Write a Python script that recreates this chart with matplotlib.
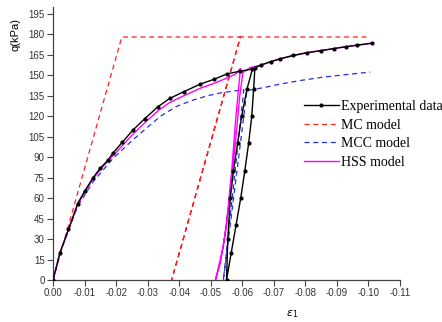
import numpy as np
import matplotlib
matplotlib.use("Agg")
import matplotlib.pyplot as plt

# experimental data: loading, unload/reload loop, continued loading
exp_eps = [0.0, -0.0022, -0.0049, -0.0078, -0.0100, -0.0127, -0.0150, -0.0175,
           -0.0190, -0.0220, -0.0254, -0.0290, -0.0333, -0.0370, -0.0415,
           -0.0467, -0.0510, -0.0552, -0.0594, -0.0632,
           -0.0615, -0.0598, -0.0585, -0.0572, -0.0562, -0.0554, -0.0550,
           -0.0565, -0.0580, -0.0595, -0.0608, -0.0620, -0.0630, -0.0636, -0.0640,
           -0.0660, -0.0690, -0.0720, -0.0760, -0.0805, -0.0850, -0.0890,
           -0.0930, -0.0964, -0.1012]
exp_q = [0, 20, 37, 56, 65, 75, 82, 88,
         93, 101, 110, 118, 127, 133, 138,
         143.5, 147, 151, 153, 154.5,
         140, 120, 100, 80, 60, 30, 0,
         20, 40, 60, 80, 100, 120, 140, 155.5,
         157.5, 160, 162, 164.5, 166.5, 168, 169.5,
         171, 172, 173.5]

# MC model
mc_eps = [0.0, -0.0218, -0.0594, -0.0376, -0.0594, -0.1006]
mc_q = [0, 178, 178, 0, 178, 178]

# MCC model
mcc_eps = [0.0, -0.0022, -0.0049, -0.0078, -0.0127, -0.0190, -0.0250, -0.0300,
           -0.0341, -0.0390, -0.0440, -0.0490, -0.0530, -0.0605,
           -0.0540,
           -0.0615,
           -0.0635, -0.0680, -0.0720, -0.0780, -0.0857, -0.0930, -0.1006]
mcc_q = [0, 20, 36, 54, 72, 89, 102, 112,
         120, 127, 131.5, 135, 137, 139.5,
         0,
         139,
         139.5, 141.5, 143.5, 146, 148.6, 150.5, 152.3]

# HSS model
hss_eps = [0.0, -0.0022, -0.0049, -0.0078, -0.0100, -0.0127, -0.0150, -0.0190,
           -0.0254, -0.0290, -0.0333, -0.0370, -0.0415, -0.0467, -0.0510,
           -0.0552, -0.0580, -0.0594,
           -0.0580, -0.0567, -0.0550, -0.0530, -0.0515,
           -0.0540, -0.0560, -0.0578, -0.0592, -0.0602, -0.0625,
           -0.0660, -0.0720, -0.0805, -0.0890, -0.0964, -0.1012]
hss_q = [0, 20, 37, 55, 64, 74, 81, 91,
         107, 115, 124, 130, 135, 140.5, 144,
         148, 151, 155,
         120, 82, 40, 12, 0,
         25, 60, 100, 135, 152, 155.5,
         157.5, 162, 166.5, 169.5, 172, 173.5]

xticks = [0.0, -0.01, -0.02, -0.03, -0.04, -0.05, -0.06, -0.07, -0.08, -0.09, -0.10, -0.11]
xtick_labels = ['0.00', '-0.01', '-0.02', '-0.03', '-0.04', '-0.05', '-0.06',
                '-0.07', '-0.08', '-0.09', '-0.10', '-0.11']
yticks = list(range(0, 196, 15))

fig = plt.figure(figsize=(4.42, 3.22), dpi=100)
ax = fig.add_axes([0.12, 0.1304, 0.785, 0.848])

ax.plot(exp_eps, exp_q, color='black', lw=1.0, marker='o', ms=2.0,
        label='Experimental data', zorder=4)
ax.plot(mc_eps, mc_q, color='#ff2020', lw=0.9, ls=(0, (4, 3)), label='MC model', zorder=2)
ax.plot(mcc_eps, mcc_q, color='#2030e0', lw=0.9, ls=(0, (4, 3)), label='MCC model', zorder=3)
ax.plot(hss_eps, hss_q, color='#ff00ff', lw=1.0, label='HSS model', zorder=3)

ax.set_xlim(0.0, -0.11)
ax.set_ylim(0, 200)
ax.set_xticks(xticks)
ax.set_xticklabels(xtick_labels, family='Liberation Sans', fontsize=7)
ax.set_yticks(yticks)
ax.set_yticklabels([str(v) for v in yticks], family='Liberation Sans', fontsize=7)
ax.tick_params(length=4, width=0.8, pad=2, color='#444444', labelcolor='#333333')

for side in ['top', 'right']:
    ax.spines[side].set_visible(False)
for side in ['left', 'bottom']:
    ax.spines[side].set_color('#444444')
    ax.spines[side].set_linewidth(0.9)

ax.set_ylabel('q(kPa)', family='Liberation Sans', fontsize=8)
ax.yaxis.set_label_coords(-0.095, 0.90)
ax.set_xlabel(r'$\varepsilon_1$', fontsize=8)
ax.xaxis.set_label_coords(0.69, -0.105)

ax.legend(loc='upper left', bbox_to_anchor=(0.688, 0.689), bbox_transform=fig.transFigure,
          frameon=False, prop={'family': 'Liberation Serif', 'size': 10},
          handlelength=2.5, handletextpad=0.15, labelspacing=0.4, borderpad=0,
          borderaxespad=0)

fig.savefig('out.png', dpi=100)
